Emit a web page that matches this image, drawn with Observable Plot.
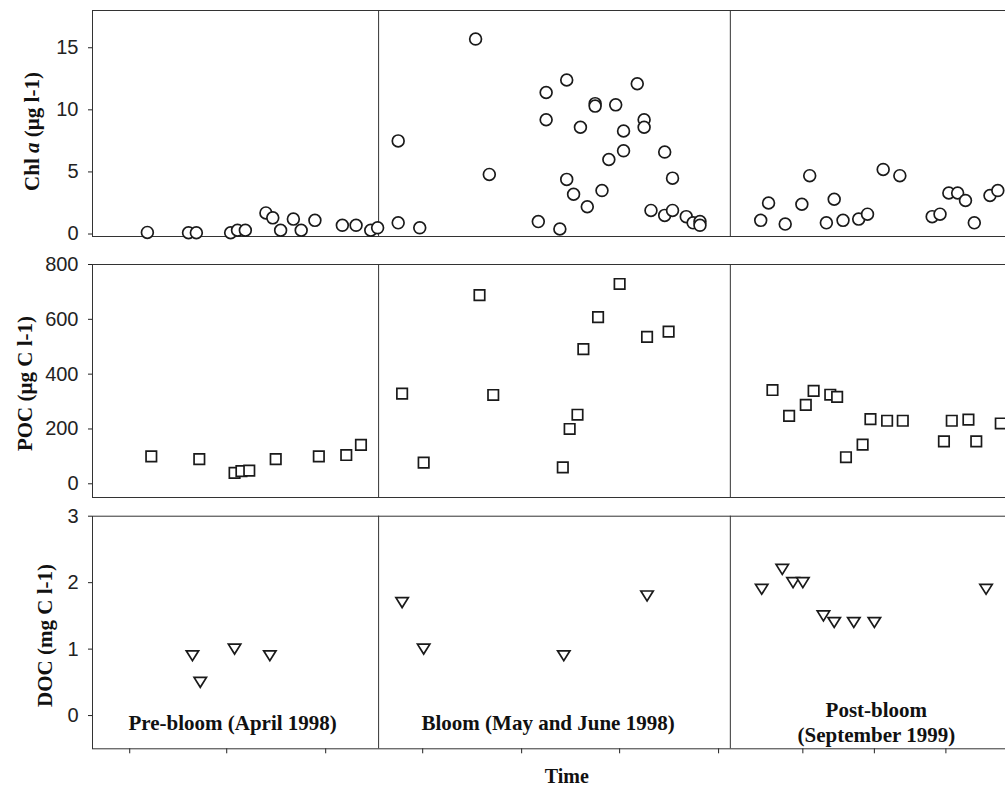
<!DOCTYPE html>
<html><head><meta charset="utf-8">
<script src="https://cdn.jsdelivr.net/npm/d3@7"></script>
<script src="https://cdn.jsdelivr.net/npm/@observablehq/plot@0.6"></script>
<style>
html,body{margin:0;padding:0;background:#fff;}
#chart{position:relative;width:1005px;height:788px;overflow:hidden;background:#fff;}
#chart svg{position:absolute;left:0;}
</style></head><body><div id="chart"></div>
<script>
// Time (arbitrary units along the broken time axis) and values
const chlT = [5.6,9.8,10.6,14.1,14.8,15.6,17.7,18.4,19.2,20.5,21.3,22.7,25.5,26.9,28.4,29.1,
  31.2,31.2,33.4,39.1,40.5,45.5,46.3,46.3,47.7,48.4,48.4,49.1,49.8,50.5,51.3,51.3,52.0,52.7,53.4,54.2,54.2,55.6,56.3,56.3,57.0,58.4,58.4,59.2,59.2,60.6,61.3,62.0,62.0,
  68.2,69.0,70.7,72.4,73.2,74.9,75.7,76.6,78.2,79.1,80.7,82.4,85.7,86.5,87.4,88.3,89.1,90.0,91.6,92.4];
const chlV = [0.13,0.1,0.1,0.1,0.3,0.3,1.7,1.3,0.3,1.2,0.3,1.1,0.7,0.7,0.3,0.5,
  7.5,0.9,0.5,15.7,4.8,1.0,11.4,9.2,0.4,12.4,4.4,3.2,8.6,2.2,10.5,10.3,3.5,6.0,10.4,8.3,6.7,12.1,9.2,8.6,1.9,6.6,1.5,4.5,1.9,1.4,0.9,1.0,0.7,
  1.1,2.5,0.8,2.4,4.7,0.9,2.8,1.1,1.2,1.6,5.2,4.7,1.4,1.6,3.3,3.3,2.7,0.9,3.1,3.5];

const pocT = [6.0,10.9,14.5,15.2,16.0,18.7,23.1,25.9,27.4,
  31.6,33.8,39.5,40.9,48.0,48.7,49.5,50.1,51.6,53.8,56.6,58.8,
  69.4,71.1,72.8,73.6,75.3,76.0,76.9,78.6,79.4,81.1,82.7,86.9,87.7,89.4,90.2,92.7];
const pocV = [100,90,40,46,48,90,100,105,142,
  329,77,688,324,60,200,252,491,608,729,536,555,
  342,248,288,339,325,317,97,143,236,230,230,155,230,234,155,220];

const docT = [10.2,11.0,14.5,18.1, 31.6,33.8,48.1,56.6, 68.3,70.4,71.5,72.5,74.6,75.7,77.7,79.8,91.2];
const docV = [0.9,0.5,1.0,0.9, 1.7,1.0,0.9,1.8, 1.9,2.2,2.0,2.0,1.5,1.4,1.4,1.4,1.9];

const xTicks = [3.8,13.7,23.8,33.7,43.8,53.8,63.9,72.5,79.8,87.1];
const dividers = [29.2, 65.1];
const periodNames = ["Pre-bloom (April 1998)", "Bloom (May and June 1998)", "Post-bloom\n(September 1999)"];
const periodCenters = [14.3, 46.5, 80.0];

const chlTicks = [0,5,10,15];
const pocTicks = [0,200,400,600,800];
const docTicks = [0,1,2,3];

const chl = chlT.map((t,i)=>({t, v: chlV[i]}));
const poc = pocT.map((t,i)=>({t, v: pocV[i]}));
const doc = docT.map((t,i)=>({t, v: docV[i]}));
const periods = periodNames.map((name,i)=>({name, t: periodCenters[i]}));

const triangleDown = {
  draw(context, size) {
    const r = Math.sqrt(size / Math.PI);
    context.moveTo(-r, -0.8*r);
    context.lineTo(r, -0.8*r);
    context.lineTo(0, 0.8*r);
    context.closePath();
  }
};

const INK = "#1a1a1a", LINE = "#333";
const serif = "Liberation Serif, Times New Roman, serif";
const common = {
  width: 1005,
  marginLeft: 92,
  marginRight: -8,
  style: {fontFamily: "Liberation Sans, Arial, sans-serif", fontSize: "20px", color: "#222", background: "white", overflow: "visible"}
};
const xDomain = [0, 94];
const fmt = d => String(d);

function yLabel(text, dx, dy) {
  return Plot.text([text], {frameAnchor: "left", text: d => d, rotate: -90, dx, dy,
    fontFamily: serif, fontWeight: "bold", fontSize: 21, fill: "#111", textAnchor: "middle", lineAnchor: "middle"});
}

const chart = document.getElementById("chart");
function place(svg, top) { svg.style.top = top + "px"; chart.appendChild(svg); return svg; }

// Panel 1: Chl a
const p1 = Plot.plot({
  ...common, height: 250, marginTop: 10, marginBottom: 14,
  x: {domain: xDomain, axis: null},
  y: {domain: [-0.2, 18], ticks: chlTicks, tickFormat: fmt, tickSize: 4, tickPadding: 10, label: null},
  marks: [
    Plot.frame({stroke: LINE}),
    Plot.ruleX(dividers, {stroke: LINE}),
    Plot.dot(chl, {x: "t", y: "v", r: 5.9, stroke: INK, strokeWidth: 1.7, fill: "white", symbol: "circle"}),
    yLabel("Chl a (µg l-1)", -60, 8)
  ]
});
place(p1, 0);
d3.select(p1).selectAll("text").filter(function(){ return this.textContent === "Chl a (µg l-1)"; }).each(function(){
  const t = d3.select(this); t.text(null);
  t.append("tspan").text("Chl ");
  t.append("tspan").attr("font-style", "italic").text("a");
  t.append("tspan").text(" (µg l-1)");
});

// Panel 2: POC
const p2 = Plot.plot({
  ...common, height: 255, marginTop: 14, marginBottom: 8,
  x: {domain: xDomain, axis: null},
  y: {domain: [-50, 800], ticks: pocTicks, tickFormat: fmt, tickSize: 4, tickPadding: 10, label: null},
  marks: [
    Plot.frame({stroke: LINE}),
    Plot.ruleX(dividers, {stroke: LINE}),
    Plot.dot(poc, {x: "t", y: "v", r: 5.9, stroke: INK, strokeWidth: 1.7, fill: "white", symbol: "square"}),
    yLabel("POC (µg C l-1)", -67, 2.5)
  ]
});
place(p2, 250);

// Panel 3: DOC
const p3 = Plot.plot({
  ...common, height: 283, marginTop: 10.7, marginBottom: 39.7,
  x: {domain: xDomain, ticks: xTicks, tickFormat: () => "", tickSize: 5, label: null},
  y: {domain: [-0.5, 3], ticks: docTicks, tickFormat: fmt, tickSize: 4, tickPadding: 10, label: null},
  marks: [
    Plot.frame({stroke: LINE}),
    Plot.ruleX(dividers, {stroke: LINE}),
    Plot.dot(doc, {x: "t", y: "v", r: 6.2, stroke: INK, strokeWidth: 1.7, fill: "white", symbol: triangleDown}),
    Plot.text(periods, {x: "t", text: "name", frameAnchor: "bottom", dy: -27, lineAnchor: "middle", lineHeight: 1.15,
      fontFamily: serif, fontWeight: "bold", fontSize: 21, fill: "#111"}),
    Plot.text(["Time"], {x: () => 48.4, text: d => d, frameAnchor: "bottom", dy: 28, lineAnchor: "middle",
      fontFamily: serif, fontWeight: "bold", fontSize: 20, fill: "#111"}),
    yLabel("DOC (mg C l-1)", -47, 3)
  ]
});
place(p3, 505);
</script></body></html>
